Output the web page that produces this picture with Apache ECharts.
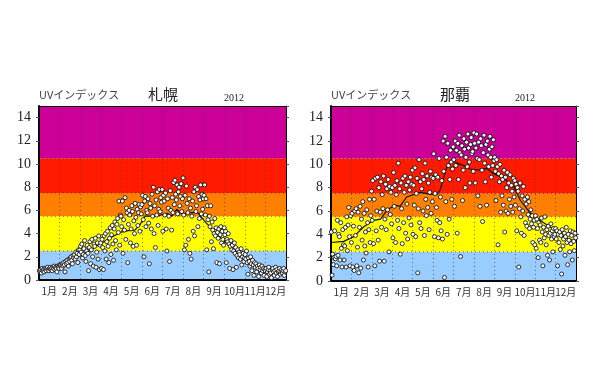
<!DOCTYPE html>
<html><head><meta charset="utf-8">
<script src="https://cdn.jsdelivr.net/npm/echarts@6/dist/echarts.min.js"></script>
<style>html,body{margin:0;padding:0;background:#fff}#c{width:600px;height:375px}</style>
</head><body><div id="c"></div>
<script>
const months = ['1月','2月','3月','4月','5月','6月','7月','8月','9月','10月','11月','12月'];
const monthDays = [31,29,31,30,31,30,31,31,30,31,30,31];
const yearLabel = '2012';
const stations = ['札幌','那覇'];
const bandEdges = [0, 2.5, 5.5, 7.5, 10.5, 15];
const bandColors = ['#99CCFF','#FFFF00','#FF8000','#FF1A00','#CC0099'];

// daily UV index values, one row per month, one value per day of month
const sapporoDaily = [
 [0.8,0.7,0.9,0.6,1.0,0.8,0.9,0.7,1.0,0.9,0.8,1.0,1.1,0.9,0.8,1.0,1.1,0.9,1.0,0.8,1.1,1.0,1.2,0.9,1.1,1.0,0.7,1.2,1.1,1.0,1.3],
 [1.2,1.3,1.0,1.4,1.2,1.5,1.3,0.7,1.6,1.4,1.7,1.5,1.2,1.8,1.6,1.9,2.0,1.7,1.4,2.1,1.9,2.2,1.8,2.4,2.0,2.3,1.5,2.6,2.2],
 [2.6,2.9,2.4,3.1,1.9,2.2,2.7,3.4,2.1,1.6,2.5,3.0,2.3,0.8,2.8,3.3,1.4,2.6,3.5,2.0,1.2,3.1,2.9,3.6,1.1,2.4,3.2,1.8,3.8,0.9,3.0],
 [3.2,1.0,3.5,2.8,0.9,3.8,2.5,4.0,1.8,3.3,4.2,2.9,1.5,3.6,4.5,2.2,3.9,4.7,3.1,1.7,4.4,5.0,3.4,2.6,4.8,5.3,4.1,6.8,3.0,5.6],
 [5.5,4.6,6.8,2.3,5.2,4.3,7.1,3.5,6.2,5.8,1.5,4.8,6.0,5.6,3.2,4.4,6.4,5.9,2.9,5.1,4.0,6.6,5.4,3.0,6.1,4.7,5.8,6.5,4.2,6.3,5.7],
 [6.5,7.3,5.2,2.0,6.8,7.2,4.6,6.0,5.8,7.0,4.9,1.4,6.6,6.2,4.4,7.4,5.5,8.0,4.0,6.4,2.8,6.9,5.6,7.6,4.7,6.1,7.8,5.9,7.1,6.7],
 [7.8,4.2,7.3,6.8,5.6,7.5,4.4,2.5,7.0,6.2,5.5,1.6,7.7,6.0,4.3,7.1,5.8,8.4,6.5,8.6,7.4,6.9,8.2,5.7,7.6,8.0,6.4,7.2,8.3,5.9,7.0],
 [8.8,5.6,2.6,7.3,3.0,8.1,6.6,5.8,3.5,7.0,2.3,6.2,1.8,5.5,6.8,4.2,7.6,3.8,8.0,5.9,6.4,7.8,4.6,7.2,5.3,6.9,8.2,5.7,7.4,6.1,7.0],
 [7.3,8.2,5.6,7.0,2.6,6.4,5.2,0.7,5.5,4.6,6.4,3.3,5.0,4.3,2.7,4.0,5.3,3.8,4.5,1.5,4.1,3.6,4.4,1.4,3.9,4.6,3.2,4.2,3.5,3.0],
 [4.5,3.9,4.2,1.5,3.5,3.3,4.0,3.1,1.0,2.9,3.4,2.6,3.0,0.9,2.5,3.2,2.3,2.8,1.1,2.1,2.6,1.9,2.4,2.2,1.8,2.7,1.3,2.0,2.3,1.6,1.9],
 [2.2,1.8,2.5,1.5,0.5,1.9,1.6,1.2,2.0,1.4,0.8,1.7,1.3,0.4,1.5,1.1,1.4,0.7,1.2,1.0,0.3,1.3,0.9,1.1,0.6,1.2,0.8,1.0,0.4,0.9],
 [0.8,1.0,0.3,0.7,0.9,1.1,0.5,0.8,0.6,0.2,0.9,1.0,0.7,0.4,0.8,1.1,0.6,0.9,0.3,0.7,0.8,1.0,0.5,0.7,0.9,0.6,0.8,1.0,0.4,0.7,0.8]
];
const nahaDaily = [
 [4.2,0.5,2.3,1.4,2.0,4.3,1.9,2.1,1.3,5.2,2.2,4.0,3.8,1.8,5.0,2.8,1.2,4.4,3.1,1.8,3.0,4.6,1.2,5.5,2.6,4.8,6.3,3.8,1.3,5.6,3.3],
 [5.8,1.2,4.7,0.9,6.0,3.9,6.2,1.3,2.9,5.9,0.7,4.6,6.4,1.1,5.3,3.5,6.8,1.8,5.8,3.0,4.2,2.4,6.1,5.0,1.2,4.4,7.0,3.3,5.6],
 [7.7,5.2,8.6,3.2,7.0,1.3,8.8,4.3,6.0,8.9,3.5,8.0,1.7,5.9,8.5,4.6,7.4,6.2,9.0,1.7,5.3,8.3,4.4,7.9,6.1,8.7,2.5,8.1,5.7,7.6,4.9],
 [8.0,3.7,9.3,6.4,8.2,3.3,7.4,8.6,5.2,10.1,4.5,7.9,2.3,8.4,6.2,3.2,8.8,5.0,7.6,9.0,4.1,8.2,6.6,3.6,8.5,5.4,7.8,8.9,4.8,8.3],
 [9.5,4.0,8.2,6.5,9.7,3.8,7.5,8.8,0.7,6.2,10.4,5.0,8.5,4.5,7.9,9.2,6.0,8.7,3.9,10.1,7.0,5.6,9.0,6.3,8.4,4.4,7.6,9.4,5.8,8.9,6.8],
 [8.8,10.9,3.8,7.5,9.1,6.3,5.2,8.9,3.7,10.5,5.0,7.2,4.3,8.6,3.6,12.0,9.4,0.3,12.4,6.8,10.6,4.0,11.8,9.9,5.3,8.7,11.2,10.2,7.0,9.6],
 [11.5,10.4,6.4,12.0,9.9,11.2,4.1,11.8,8.7,12.5,11.0,2.1,10.8,11.6,6.9,9.5,12.2,11.3,8.0,10.6,11.9,9.8,12.6,11.4,10.2,8.4,11.7,12.3,10.9,11.1,9.4],
 [12.7,11.8,8.4,11.4,12.6,10.5,7.3,11.9,10.4,6.4,12.2,11.6,9.5,5.1,11.0,12.5,10.1,8.5,11.7,6.5,12.0,10.8,9.8,11.3,12.4,10.6,8.9,11.5,9.9,12.1,10.3],
 [10.6,9.4,6.9,10.4,9.8,3.1,9.2,8.5,10.0,5.9,9.0,7.3,8.7,6.5,9.5,4.2,8.9,6.0,8.0,9.3,5.8,8.4,7.0,9.1,6.4,8.2,7.7,5.9,8.8,7.2],
 [8.6,6.5,8.3,4.3,8.0,7.7,1.2,6.2,8.4,5.5,4.1,7.3,6.0,8.1,3.9,7.0,5.0,6.6,4.7,7.2,5.7,6.8,4.5,5.3,6.1,4.9,5.6,3.3,4.6,5.2,3.1],
 [5.6,2.8,5.3,4.5,2.0,5.0,3.5,4.8,3.3,5.4,4.2,1.3,4.6,3.7,5.5,4.0,3.1,4.4,2.2,4.7,3.9,1.8,4.1,4.9,3.6,4.3,2.5,4.5,3.8,4.0],
 [4.5,3.6,4.3,1.3,4.0,3.3,4.2,2.7,3.9,0.6,4.4,3.0,3.6,4.1,2.2,3.8,4.6,3.3,1.4,4.0,3.5,2.5,4.3,3.2,3.9,1.8,4.2,3.4,2.6,4.1,3.7]
];

// smoothed curve (day of year, UV index)
const sapporoTrendDay = [0,15,31,46,61,70,85,105,120,132,142,150,157,170,180,190,197,204,212,225,235,248,263,277,292,307,322,336,351,366];
const sapporoTrend    = [0.75,0.95,1.2,1.6,2.1,2.35,2.9,3.6,4.1,4.25,4.3,4.8,5.5,5.5,5.6,5.75,5.5,6.1,5.7,5.8,5.8,4.9,4.0,3.2,2.5,1.75,1.3,0.9,0.6,0.45];
const nahaTrendDay = [0,19,34,49,64,74,84,96,103,113,133,148,158,163,173,181,188,198,208,223,233,243,258,273,283,298,312,327,342,352,366];
const nahaTrend    = [3.3,3.4,3.8,4.65,5.2,5.3,6.1,6.5,6.4,7.2,7.6,7.45,7.4,7.8,9.8,10.4,10.1,9.9,9.6,9.5,9.65,9.2,8.8,8.1,6.9,5.8,5.2,4.65,4.1,3.65,3.4];

const grids = [
  {left:39, top:106, width:247, height:174},
  {left:331, top:106, width:245, height:175}
];
const titlePos = [
  {uv:39, name:148, year:224},
  {uv:331, name:440, year:515}
];

function dailyPoints(rows){
  const pts = [];
  let start = 0;
  rows.forEach((row, m) => {
    row.forEach((v, i) => { if (v != null) pts.push([start + i + 0.5, v]); });
    start += monthDays[m];
  });
  return pts;
}
function zip(a, b){ return a.map((x, i) => [x, b[i]]); }

function renderBand(params, api){
  const lo = api.value(0), hi = api.value(1);
  const p1 = api.coord([0, hi]);
  const p2 = api.coord([366, lo]);
  const children = [{type:'rect', shape:{x:p1[0], y:p1[1], width:p2[0]-p1[0], height:p2[1]-p1[1]}, style:{fill:bandColors[params.dataIndex]}}];
  if (lo > 0) children.push({type:'line', shape:{x1:p1[0], y1:p2[1], x2:p2[0], y2:p2[1]}, style:{stroke:'rgba(60,60,60,0.75)', lineWidth:1, lineDash:[1,3]}});
  return {type:'group', children};
}
const bandData = bandColors.map((c, i) => [bandEdges[i], bandEdges[i+1]]);

const serif = "'Liberation Serif','DejaVu Serif',serif";
const jp = "'Noto Sans CJK JP','Noto Sans',sans-serif";

const option = {
  animation:false,
  backgroundColor:'#fff',
  title:[], grid:grids, xAxis:[], yAxis:[], series:[]
};
const dailySets = [sapporoDaily, nahaDaily];
const trendSets = [zip(sapporoTrendDay, sapporoTrend), zip(nahaTrendDay, nahaTrend)];

stations.forEach((name, g) => {
  const tp = titlePos[g];
  option.title.push(
    {text:'UVインデックス', left:tp.uv, top:89, padding:0, textStyle:{fontSize:11, fontWeight:'normal', fontFamily:jp, color:'#444'}},
    {text:name, left:tp.name, top:87, padding:0, textStyle:{fontSize:15, fontWeight:'normal', fontFamily:jp, color:'#222'}},
    {text:yearLabel, left:tp.year, top:93, padding:0, textStyle:{fontSize:10, fontWeight:'normal', fontFamily:serif, color:'#222'}}
  );
  option.xAxis.push({gridIndex:g, type:'value', min:0, max:366, position:'top', z:3,
    axisLine:{show:true, onZero:false, lineStyle:{color:'#000', width:1}},
    axisTick:{show:false}, axisLabel:{show:false}, splitLine:{show:false}});
  option.xAxis.push({gridIndex:g, type:'category', data:months, position:'bottom', boundaryGap:true, z:3,
    axisLine:{show:true, onZero:false, lineStyle:{color:'#000', width:2}},
    axisTick:{show:false},
    axisLabel:{fontSize:10, fontFamily:jp, color:'#333', margin:6, interval:0},
    splitLine:{show:true, lineStyle:{color:'rgba(60,60,60,0.7)', type:[1,3], width:1}}});
  option.yAxis.push({gridIndex:g, type:'value', min:0, max:15, interval:2, position:'left', z:3,
    axisLine:{show:true, onZero:false, lineStyle:{color:'#000', width:2}},
    axisTick:{show:true, length:3, lineStyle:{color:'#555'}},
    axisLabel:{fontSize:14, fontFamily:serif, color:'#222', margin:8, showMaxLabel:false},
    splitLine:{show:false}});
  option.yAxis.push({gridIndex:g, type:'value', min:0, max:15, interval:2, position:'right', z:3,
    axisLine:{show:true, onZero:false, lineStyle:{color:'#000', width:1}},
    axisTick:{show:true, length:3, lineStyle:{color:'#555'}},
    axisLabel:{show:false}, splitLine:{show:false}});
  const xi = g*2, yi = g*2;
  option.series.push(
    {type:'custom', xAxisIndex:xi, yAxisIndex:yi, z:1, silent:true, renderItem:renderBand, data:bandData, clip:true},
    {type:'line', xAxisIndex:xi, yAxisIndex:yi, z:4, data:trendSets[g], showSymbol:false, symbol:'none',
      lineStyle:{color:'#111', width:1.2}},
    {type:'scatter', xAxisIndex:xi, yAxisIndex:yi, z:5, data:dailyPoints(dailySets[g]), symbol:'circle', symbolSize:4,
      itemStyle:{color:'#fff', borderColor:'#000', borderWidth:0.8, opacity:1}}
  );
});

const chart = echarts.init(document.getElementById('c'), null, {renderer:'canvas'});
chart.setOption(option);
</script>
</body></html>
